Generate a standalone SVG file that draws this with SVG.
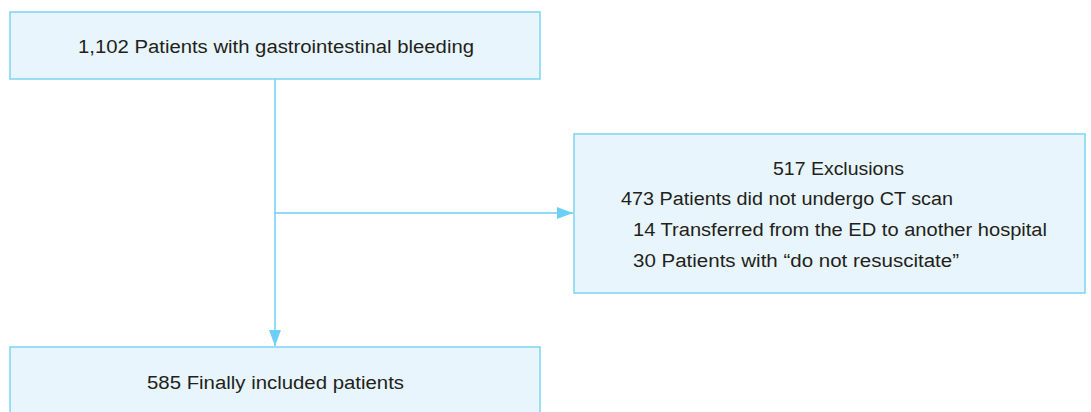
<svg xmlns="http://www.w3.org/2000/svg" width="1091" height="412" viewBox="0 0 1091 412">
<defs>
<style>
.box{fill:#e8f5fc;stroke:#7dd3f5;stroke-width:1.5}
.t{font-family:"Liberation Sans",Arial,sans-serif;font-size:18px;fill:#231f20}
.c{fill:none;stroke:#6dcdf5;stroke-width:1.5}
</style>
<marker id="ah" markerWidth="16" markerHeight="12" refX="16" refY="6" orient="auto" markerUnits="userSpaceOnUse">
<path d="M0,0 L16,6 L0,12 Z" fill="#6dcff6"/>
</marker>
</defs>
<rect width="1091" height="412" fill="#ffffff"/>
<g id="connectors">
<line class="c" x1="275" y1="79" x2="275" y2="346" marker-end="url(#ah)"/>
<line class="c" x1="275" y1="213" x2="573" y2="213" marker-end="url(#ah)"/>
</g>
<g id="node-total">
<rect class="box" x="10" y="12" width="530" height="67"/>
<text class="t" x="276" y="53" text-anchor="middle" textLength="396" lengthAdjust="spacingAndGlyphs">1,102 Patients with gastrointestinal bleeding</text>
</g>
<g id="node-exclusions">
<rect class="box" x="574" y="134" width="511" height="159"/>
<text class="t" x="773" y="175" textLength="131" lengthAdjust="spacingAndGlyphs">517 Exclusions</text>
<text class="t" x="621" y="205" textLength="332" lengthAdjust="spacingAndGlyphs">473 Patients did not undergo CT scan</text>
<text class="t" x="633" y="236" textLength="414" lengthAdjust="spacingAndGlyphs">14 Transferred from the ED to another hospital</text>
<text class="t" x="633" y="267" textLength="326" lengthAdjust="spacingAndGlyphs">30 Patients with “do not resuscitate”</text>
</g>
<g id="node-included">
<rect class="box" x="10" y="347" width="530" height="80"/>
<text class="t" x="147" y="389" textLength="257" lengthAdjust="spacingAndGlyphs">585 Finally included patients</text>
</g>
</svg>
